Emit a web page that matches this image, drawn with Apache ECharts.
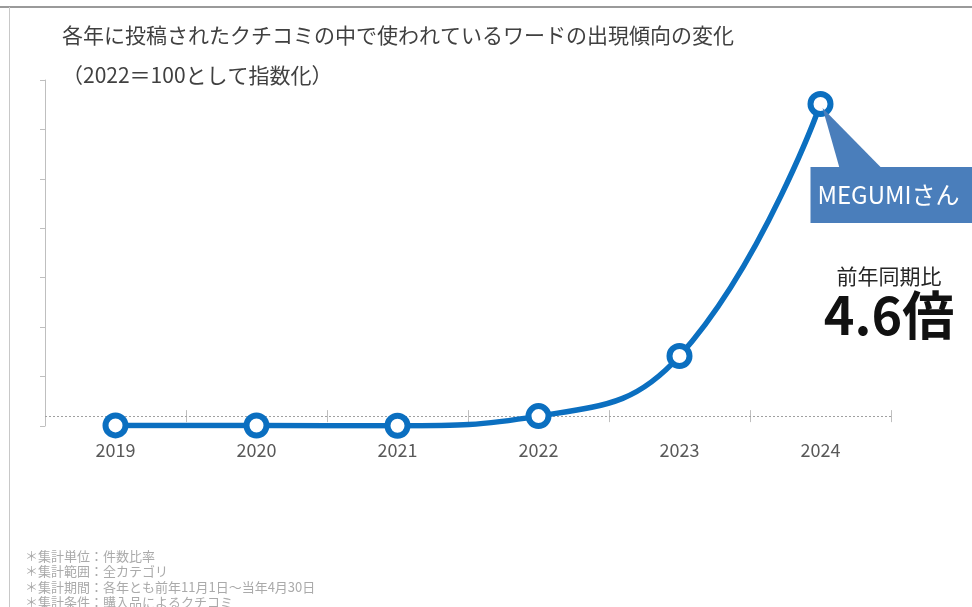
<!DOCTYPE html>
<html>
<head>
<meta charset="utf-8">
<script src="https://cdn.jsdelivr.net/npm/echarts@6/dist/echarts.min.js"></script>
<style>
  html, body { margin: 0; padding: 0; background: #fff; }
  #chart { width: 972px; height: 607px; }
</style>
</head>
<body>
<div id="chart"></div>
<script>
// Index of the word's appearance per year (2022 = 100)
const years = ['2019', '2020', '2021', '2022', '2023', '2024'];
const indexValues = [6, 5, 2, 100, 708, 3257];
const baseValue = 100;
const yMax = 3500;
const yInterval = 500;

const titleText = '各年に投稿されたクチコミの中で使われているワードの出現傾向の変化';
const subtitleText = '（2022＝100として指数化）';
const calloutText = 'MEGUMIさん';
const ratioCaption = '前年同期比';
const footnotes = [
  '＊集計単位：件数比率',
  '＊集計範囲：全カテゴリ',
  '＊集計期間：各年とも前年11月1日～当年4月30日',
  '＊集計条件：購入品によるクチコミ'
];

const FONT = '"Noto Sans CJK JP", "Noto Sans", sans-serif';
const BLUE = '#0b6fc0';
const GRID = { left: 45, right: 81, top: 80, bottom: 181 };
const gridHeight = 607 - GRID.top - GRID.bottom;
const basePx = gridHeight * baseValue / yMax;

const lastIdx = indexValues.length - 1;
const ratio = (indexValues[lastIdx] / indexValues[lastIdx - 1]).toFixed(1);

const chart = echarts.init(document.getElementById('chart'), null, { renderer: 'canvas' });

const option = {
  backgroundColor: '#fff',
  animation: false,
  textStyle: { fontFamily: FONT },
  title: [
    { text: titleText, left: 57, top: 20,
      textStyle: { fontFamily: FONT, fontSize: 21, fontWeight: 'normal', color: '#404040' } },
    { text: subtitleText, left: 57, top: 60,
      textStyle: { fontFamily: FONT, fontSize: 21, fontWeight: 'normal', color: '#404040' } }
  ],
  grid: GRID,
  xAxis: [
    {
      type: 'category', data: years, boundaryGap: true,
      axisLine: { show: false }, axisTick: { show: false },
      axisLabel: { margin: 15, fontSize: 18, color: '#595959', fontFamily: FONT }
    },
    {
      // tick marks straddling the 2022 baseline
      type: 'category', data: years, boundaryGap: true, position: 'bottom',
      offset: -(basePx - 6),
      axisLine: { show: false },
      axisTick: { show: true, inside: true, length: 12, lineStyle: { color: '#bfbfbf', width: 1 } },
      axisLabel: { show: false }
    }
  ],
  yAxis: {
    type: 'value', min: 0, max: yMax, interval: yInterval,
    axisLine: { show: true, lineStyle: { color: '#bfbfbf', width: 1 } },
    axisTick: { show: true, length: 5, lineStyle: { color: '#bfbfbf' } },
    axisLabel: { show: false },
    splitLine: { show: false }
  },
  series: [{
    type: 'line',
    data: indexValues,
    smooth: 0.45,
    symbol: 'circle',
    symbolSize: 20,
    itemStyle: { color: '#fff', borderColor: BLUE, borderWidth: 6 },
    lineStyle: { color: BLUE, width: 5.5 },
    z: 5,
    markLine: {
      silent: true, symbol: 'none', label: { show: false },
      lineStyle: { color: '#a0a0a0', type: [2, 2], width: 1 },
      data: [{ yAxis: baseValue }],
      z: 1
    }
  }]
};
chart.setOption(option);

// Callout pointing at the latest year, plus ratio text and footnotes
const tip = chart.convertToPixel({ xAxisIndex: 0, yAxisIndex: 0 }, [lastIdx, indexValues[lastIdx]]);
const boxTop = tip[1] + 63;
const graphics = [
  { type: 'line', shape: { x1: 0, y1: 7, x2: 972, y2: 7 }, style: { stroke: '#9a9a9a', lineWidth: 2 }, z: 50 },
  { type: 'line', shape: { x1: 9.5, y1: 7, x2: 9.5, y2: 607 }, style: { stroke: '#c8c8c8', lineWidth: 1 }, z: 50 },
  { type: 'polygon', shape: { points: [[tip[0] + 2, tip[1] + 4], [tip[0] + 19, boxTop + 1], [tip[0] + 61, boxTop + 1]] },
    style: { fill: '#4a7ebb' }, z: 100 },
  { type: 'rect', shape: { x: tip[0] - 10, y: boxTop, width: 200, height: 56 }, style: { fill: '#4a7ebb' }, z: 100 },
  { type: 'text', x: tip[0] - 3, y: boxTop + 28,
    style: { text: calloutText, fill: '#fff', font: '24px ' + FONT, textVerticalAlign: 'middle' }, z: 101 },
  { type: 'text', x: 889, y: 276,
    style: { text: ratioCaption, fill: '#262626', font: '21px ' + FONT, textAlign: 'center', textVerticalAlign: 'middle' }, z: 101 },
  { type: 'text', x: 889, y: 315,
    style: { text: ratio + '倍', fill: '#111', font: 'bold 52px ' + FONT, textAlign: 'center', textVerticalAlign: 'middle' }, z: 101 }
];
footnotes.forEach((t, i) => {
  graphics.push({ type: 'text', x: 25, y: 556 + i * 15.5,
    style: { text: t, fill: '#aaaaaa', font: '13px ' + FONT, textVerticalAlign: 'middle' }, z: 101 });
});
chart.setOption({ graphic: graphics });
</script>
</body>
</html>
